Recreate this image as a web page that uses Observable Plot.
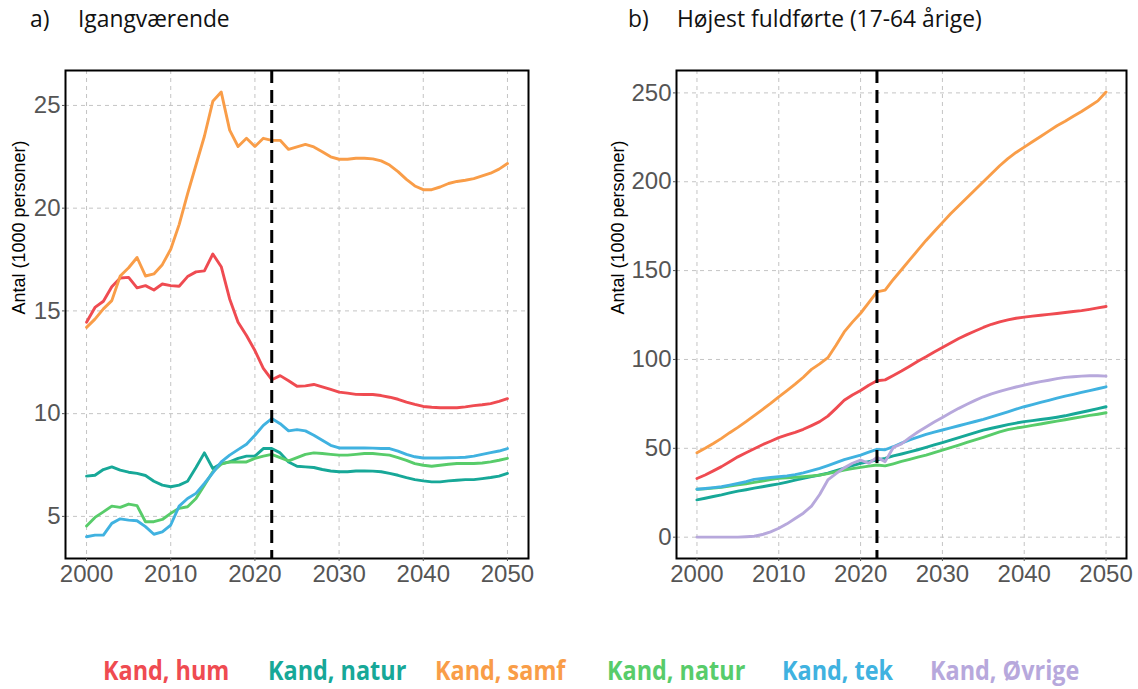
<!DOCTYPE html>
<html>
<head>
<meta charset="utf-8">
<script src="https://cdn.jsdelivr.net/npm/d3@7"></script>
<script src="https://cdn.jsdelivr.net/npm/@observablehq/plot@0.6"></script>
<style>
  body { margin: 0; background: #fff; }
  #wrap { position: relative; width: 1138px; height: 689px; overflow: hidden; background:#fff; }
  .panel { position: absolute; top: 0; }
  .title { position: absolute; top: 3px; font-family: "Open Sans", sans-serif; font-size: 22.8px; color: #111; white-space: nowrap; }
  .leg { position: absolute; top: 652px; font-family: "Open Sans", sans-serif; font-weight: 700; font-size: 26px; white-space: nowrap; transform-origin: left center; transform: scaleX(0.9); }
</style>
</head>
<body>
<div id="wrap"></div>
<script>
// ---------- data ----------
const years = d3.range(2000, 2051);
const seriesKeys = ["hum", "natur", "samf", "natur2", "tek", "ovrige"];
const legendLabels = ["Kand, hum", "Kand, natur", "Kand, samf", "Kand, natur", "Kand, tek", "Kand, Øvrige"];
const seriesColors = ["#EF4B51", "#17A898", "#F99D48", "#58CC6A", "#40B2E0", "#B7A8DC"];

// Panel a) Igangværende (1000 personer)
const aHum = [14.45,15.17,15.47,16.18,16.6,16.63,16.12,16.23,16.02,16.31,
  16.23,16.2,16.67,16.9,16.95,17.77,17.15,15.58,14.45,13.8,
  13.07,12.2,11.65,11.85,11.6,11.33,11.35,11.42,11.3,11.18,
  11.05,11.0,10.94,10.93,10.93,10.88,10.8,10.7,10.56,10.45,
  10.35,10.31,10.29,10.29,10.29,10.33,10.39,10.43,10.49,10.6,10.73];
const aNatur = [6.96,7.0,7.28,7.41,7.25,7.15,7.09,6.99,6.71,6.52,
  6.44,6.52,6.71,7.38,8.09,7.33,7.57,7.65,7.82,7.93,
  7.93,8.3,8.3,8.09,7.65,7.44,7.41,7.38,7.28,7.21,
  7.17,7.17,7.21,7.21,7.2,7.17,7.09,7.0,6.89,6.79,
  6.73,6.68,6.68,6.73,6.76,6.79,6.79,6.84,6.89,6.96,7.09];
const aSamf = [14.2,14.6,15.1,15.5,16.7,17.1,17.6,16.7,16.8,17.25,
  18.0,19.2,20.7,22.1,23.5,25.2,25.65,23.8,23.0,23.4,
  23.0,23.4,23.3,23.3,22.86,22.98,23.1,22.98,22.75,22.5,
  22.38,22.38,22.43,22.43,22.4,22.3,22.1,21.78,21.4,21.08,
  20.9,20.9,21.03,21.2,21.3,21.36,21.44,21.57,21.7,21.9,22.17];
const aNatur2 = [4.53,4.95,5.22,5.5,5.44,5.6,5.52,4.74,4.74,4.85,
  5.15,5.39,5.47,5.87,6.52,7.17,7.54,7.65,7.65,7.65,
  7.82,7.93,8.02,7.86,7.7,7.86,8.02,8.09,8.06,8.02,
  7.98,7.98,8.02,8.06,8.06,8.02,7.98,7.86,7.73,7.57,
  7.49,7.44,7.49,7.54,7.57,7.57,7.57,7.6,7.65,7.73,7.82];
const aTek = [4.01,4.09,4.09,4.66,4.88,4.82,4.79,4.5,4.13,4.25,
  4.58,5.5,5.87,6.12,6.6,7.12,7.65,7.98,8.25,8.51,
  8.95,9.43,9.76,9.51,9.16,9.22,9.16,8.95,8.7,8.46,
  8.33,8.33,8.33,8.33,8.32,8.3,8.3,8.18,8.02,7.9,
  7.84,7.84,7.84,7.85,7.86,7.88,7.93,8.02,8.1,8.18,8.3];

// Panel b) Højest fuldførte (17-64 årige) (1000 personer)
const bHum = [33,35,37.3,39.7,42.5,45.2,47.5,49.8,52,54,
  56,57.5,59,60.7,62.8,65,68.1,72.5,77,80,
  82.5,85.5,88,88.5,91,93.5,96.2,99,101.5,104.2,
  106.7,109.3,111.8,114,116,118,119.8,121.2,122.3,123.2,
  123.8,124.4,124.9,125.4,125.9,126.4,127,127.5,128.2,129,129.8];
const bNatur = [21,21.9,22.9,23.8,24.9,25.9,26.7,27.6,28.4,29.2,
  30,31,32.1,33.1,34.1,35,36,37.4,38.8,40.2,
  41.6,42.5,43.4,44.3,45.7,46.8,48,49.2,50.5,51.9,
  53.2,54.6,56,57.4,58.8,60.2,61.3,62.3,63.3,64.2,
  65,65.6,66.2,66.8,67.5,68.3,69.3,70.3,71.3,72.3,73.4];
const bSamf = [47.5,50,52.7,55.6,58.8,61.8,65,68.4,71.8,75.3,
  79,82.5,86.1,90,94.4,97.5,101,108,115.5,121,
  126,132,138,139,145,150.5,156,161.5,167,172,
  177,182,186.5,191,195.5,200,204.5,209,213,216.5,
  219.5,222.5,225.5,228.5,231.5,234,236.8,239.5,242.5,245.5,250.5];
const bNatur2 = [27,27.2,27.6,28,28.7,29.4,30,30.8,31.6,32.4,
  33.1,33.4,33.7,34,34.4,34.9,35.8,36.8,37.8,38.6,
  39.3,40,40.6,40.1,41.3,42.6,43.8,45,46.2,47.6,
  49,50.4,51.8,53.3,54.7,56.2,57.7,59.2,60.5,61.4,
  62.1,62.9,63.7,64.5,65.3,66.1,66.9,67.7,68.5,69.2,70];
const bTek = [27,27.4,27.9,28.4,29.3,30.2,31.2,32.5,33,33.6,
  34,34.5,35.2,36.2,37.4,38.7,40.3,42,43.6,44.9,
  46.2,47.8,49.4,49.2,50.9,52.9,54.8,56.3,57.8,59.1,
  60.3,61.5,62.7,63.9,65.1,66.3,67.7,69.1,70.5,72,
  73.4,74.6,75.8,77,78.2,79.4,80.4,81.5,82.5,83.5,84.6];
const bOevrige = [0,0,0,0,0,0,0.2,0.5,1.5,3,
  5,7.5,10.5,13.5,17.5,24,32.2,35.8,39,41.6,
  43.4,41.6,44.9,42.5,50.5,52.5,56,59.2,62,64.8,
  67.4,70,72.5,74.8,77,79,80.6,82,83.3,84.5,
  85.6,86.6,87.5,88.3,89.2,89.9,90.3,90.6,90.8,90.8,90.6];

const xTicks = [2000, 2010, 2020, 2030, 2040, 2050];
const aYTicks = [5, 10, 15, 20, 25];
const bYTicks = [0, 50, 100, 150, 200, 250];
const cutYear = [2022];
const yLabel = "Antal (1000 personer)";
const titles = [["a)", "Igangværende"], ["b)", "Højest fuldførte (17-64 årige)"]];

// ---------- build ----------
function table(seriesMap) {
  return Object.entries(seriesMap).flatMap(([key, vals]) =>
    vals.map((v, i) => ({year: years[i], value: v, series: key})));
}
const dataA = table({hum: aHum, natur: aNatur, samf: aSamf, natur2: aNatur2, tek: aTek});
const dataB = table({hum: bHum, natur: bNatur, samf: bSamf, natur2: bNatur2, tek: bTek, ovrige: bOevrige});

function panel(data, opts) {
  return Plot.plot({
    width: opts.width, height: 600,
    marginLeft: opts.marginLeft, marginRight: 12, marginTop: 70, marginBottom: 42,
    style: {fontFamily: "'Liberation Sans', Arial, sans-serif", background: "white", overflow: "visible"},
    x: {domain: [1997.5, 2052.5]},
    y: {domain: opts.yDomain},
    color: {domain: seriesKeys, range: seriesColors},
    marks: [
      Plot.gridX(xTicks, {stroke: "#c4c4c4", strokeOpacity: 1, strokeDasharray: "4,4", strokeWidth: 1}),
      Plot.gridY(opts.yTicks, {stroke: "#c4c4c4", strokeOpacity: 1, strokeDasharray: "4,4", strokeWidth: 1}),
      Plot.line(data, {x: "year", y: "value", z: "series", stroke: "series", strokeWidth: 2.9}),
      Plot.ruleX(cutYear, {stroke: "black", strokeWidth: 3, strokeDasharray: "13,7"}),
      Plot.frame({stroke: "black", strokeWidth: 2}),
      Plot.axisX(xTicks, {tickSize: 3, tickPadding: 3, fontSize: 24, color: "#555", label: null, tickFormat: d => String(d)}),
      Plot.axisY(opts.yTicks, {tickSize: 3, tickPadding: 2, fontSize: 24, color: "#555", label: null}),
      Plot.text([yLabel], {frameAnchor: "left", dx: -opts.labelOffset, rotate: -90, fontSize: 18, fill: "black", text: d => d})
    ]
  });
}

const wrap = document.getElementById("wrap");
const pa = panel(dataA, {width: 540, marginLeft: 65, yDomain: [2.95, 26.7], yTicks: aYTicks, labelOffset: 46});
pa.classList.add("panel"); pa.style.left = "0px";
wrap.appendChild(pa);
const pb = panel(dataB, {width: 568, marginLeft: 106, yDomain: [-12, 262.6], yTicks: bYTicks, labelOffset: 58});
pb.classList.add("panel"); pb.style.left = "570px";
wrap.appendChild(pb);

// titles
const titlePos = [[30, 78], [628, 677]];
titles.forEach(([tag, txt], i) => {
  const t1 = document.createElement("div"); t1.className = "title"; t1.textContent = tag; t1.style.left = titlePos[i][0] + "px";
  const t2 = document.createElement("div"); t2.className = "title"; t2.textContent = txt; t2.style.left = titlePos[i][1] + "px";
  wrap.appendChild(t1); wrap.appendChild(t2);
});

// legend
const legendX = [103, 268, 435, 607, 782, 930];
legendLabels.forEach((lab, i) => {
  const d = document.createElement("div");
  d.className = "leg"; d.textContent = lab; d.style.left = legendX[i] + "px"; d.style.color = seriesColors[i];
  wrap.appendChild(d);
});
</script>
</body>
</html>
